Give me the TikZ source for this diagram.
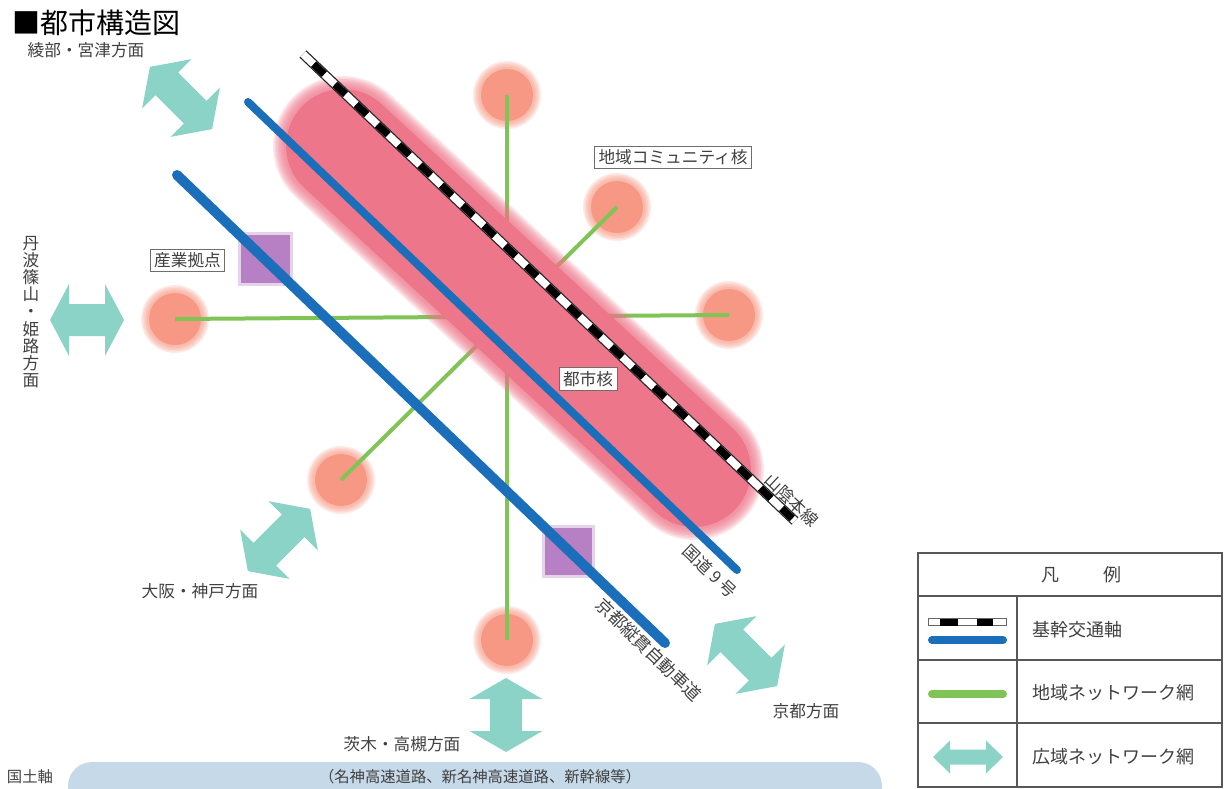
\documentclass[tikz,border=0pt]{standalone}
\usepackage{fontspec}
\setmainfont{Noto Sans CJK JP}
\definecolor{arrowcol}{RGB}{140,211,199}
\definecolor{pinkc}{RGB}{237,118,138}
\definecolor{dotcol}{RGB}{246,152,132}
\definecolor{greenc}{RGB}{128,196,88}
\definecolor{bluec}{RGB}{27,110,185}
\definecolor{purplec}{RGB}{183,127,196}
\definecolor{txtc}{RGB}{64,64,64}
\definecolor{barc}{RGB}{198,217,232}
\definecolor{boxc}{RGB}{110,110,110}
\newcommand{\dblarrow}[7]{%
\begin{scope}[shift={(#1,#2)},rotate=#3]
\fill[arrowcol] ({-#4/2},0) -- ({-#4/2+#6},{#5/2}) -- ({-#4/2+#6},{#7/2}) -- ({#4/2-#6},{#7/2}) -- ({#4/2-#6},{#5/2}) -- ({#4/2},0) -- ({#4/2-#6},{-#5/2}) -- ({#4/2-#6},{-#7/2}) -- ({-#4/2+#6},{-#7/2}) -- ({-#4/2+#6},{-#5/2}) -- cycle;
\end{scope}}
\newcommand{\softdot}[1]{%
\foreach \r in {34,32.5,...,27}{\fill[dotcol,opacity=0.2] (#1) circle[radius=\r*0.75pt];}
\fill[dotcol] (#1) circle[radius=26*0.75pt];}
\tikzset{
  lbl/.style={text=txtc,font=\fontsize{12.5}{15}\selectfont,inner sep=0pt},
  boxlbl/.style={draw=boxc,line width=0.7pt,fill=white,text=txtc,font=\fontsize{12.5}{15}\selectfont,inner xsep=3pt,inner ysep=2.5pt},
  leg/.style={text=txtc,font=\fontsize{13.5}{16}\selectfont,inner sep=0pt,anchor=west},
  greenline/.style={greenc,line width=3pt},
}
\begin{document}
\begin{tikzpicture}[x=0.75pt,y=-0.75pt]
\useasboundingbox (0,0) rectangle (1225,789);
\begin{scope}
\clip (0,0) rectangle (1225,789);
% coordinates
\coordinate (ctop) at (507,95);
\coordinate (ccom) at (617,207);
\coordinate (cright) at (729,315);
\coordinate (cleft) at (175,319);
\coordinate (cll) at (341,480);
\coordinate (cbot) at (507,640);
\coordinate (C1) at (343,146);
\coordinate (C2) at (694,470);
\coordinate (R1) at (303,54);
\coordinate (R2) at (795,521);
\coordinate (N1) at (248,102);
\coordinate (N2) at (737,570);
\coordinate (E1) at (177,175);
\coordinate (E2) at (665,643);
% dots
\softdot{ctop}\softdot{ccom}\softdot{cright}\softdot{cleft}\softdot{cll}\softdot{cbot}
% green network
\draw[greenline] (ctop) -- (cbot);
\draw[greenline] (cleft) -- (cright);
\draw[greenline] (cll) -- (ccom);
% capsule
\foreach \w in {140,137,...,117}{\draw[pinkc,opacity=0.17,line width=\w*0.75pt,line cap=round] (C1) -- (C2);}
\draw[pinkc,line width=114*0.75pt,line cap=round] (C1) -- (C2);
% purple squares
\fill[purplec,opacity=0.35] (238,232) rectangle (293,286);
\fill[purplec] (241,235) rectangle (290,283);
\fill[purplec,opacity=0.35] (542,525) rectangle (595,578);
\fill[purplec] (545,528) rectangle (592,575);
% roads
\draw[bluec,line width=6pt,line cap=round] (N1) -- (N2);
\draw[bluec,line width=7.5pt,line cap=round] (E1) -- (E2);
% rail
\draw[black!85,line width=7.5pt] (R1) -- (R2);
\draw[white,line width=5.6pt] (R1) -- (R2);
\draw[black,line width=5.6pt,dash pattern=on 11pt off 11pt,dash phase=11pt] (R1) -- (R2);
% arrows
\dblarrow{181}{98}{-45}{88}{70}{24}{32}
\dblarrow{87}{320}{0}{74}{72}{19}{32}
\dblarrow{279}{540}{45}{88}{70}{24}{32}
\dblarrow{506}{715}{90}{74}{73}{21}{32}
\dblarrow{746}{655}{-45}{88}{70}{24}{32}
% title
\node[anchor=west,font=\fontsize{21}{24}\selectfont,inner sep=0pt] (title) at (12,23) {■都市構造図};
% direction labels
\node[lbl] (ayabe) at (86,50) {綾部・宮津方面};
\node[lbl,align=center,font=\fontsize{12.5}{12.9}\selectfont] (tamba) at (31,312) {丹\\波\\篠\\山\\・\\姫\\路\\方\\面};
\node[lbl] (osaka) at (200,591) {大阪・神戸方面};
\node[lbl] (kyoto) at (806,711) {京都方面};
\node[lbl] (ibaraki) at (402,744) {茨木・高槻方面};
% boxed labels
\node[boxlbl] (sangyo) at (187.5,260) {産業拠点};
\node[boxlbl] (comm) at (673,157.5) {地域コミュニティ核};
\node[boxlbl] (toshi) at (588,379) {都市核};
% rotated labels
\node[lbl,rotate=-43.5] (sanin) at (792,500) {山陰本線};
\node[lbl,rotate=-43.5] (kokudo) at (710,571) {国道 9 号};
\node[lbl,rotate=-44,font=\fontsize{13}{15}\selectfont] (jukan) at (649,650) {京都縦貫自動車道};
% national axis bar
\fill[barc] (68,762) [rounded corners=18pt] rectangle (882,812);
\node[lbl,font=\fontsize{11.5}{14}\selectfont] (kokudojiku) at (30,777) {国土軸};
\node[lbl,font=\fontsize{11.5}{14}\selectfont] (bartext) at (480,777) {（名神高速道路、新名神高速道路、新幹線等）};
% legend
\draw[boxc!80!black,line width=1.1pt] (918,553) rectangle (1222,787);
\draw[boxc!80!black,line width=1.1pt] (918,596) -- (1222,596);
\draw[boxc!80!black,line width=1.1pt] (918,660) -- (1222,660);
\draw[boxc!80!black,line width=1.1pt] (918,723) -- (1222,723);
\draw[boxc!80!black,line width=1.1pt] (1017,596) -- (1017,787);
\node[text=txtc,font=\fontsize{13.5}{16}\selectfont,inner sep=0pt] (leghead) at (1081,575) {凡\hspace{33pt}例};
\coordinate (LR1) at (928,622);
\coordinate (LR2) at (1007,622);
\draw[black!60,line width=6pt] (LR1) -- (LR2);
\draw[white,line width=4.6pt] (928.9,622) -- (1006.1,622);
\fill[black] (940,618.5) rectangle (958,625.5);
\fill[black] (977,618.5) rectangle (993,625.5);
\coordinate (LB1) at (932,640);
\coordinate (LB2) at (1003,640);
\draw[bluec,line width=6pt,line cap=round] (LB1) -- (LB2);
\coordinate (LG1) at (932,694);
\coordinate (LG2) at (1003,694);
\draw[greenc,line width=6pt,line cap=round] (LG1) -- (LG2);
\dblarrow{968}{757}{0}{70}{33}{17}{15}
\node[leg] (leg1) at (1032,630) {基幹交通軸};
\node[leg] (leg2) at (1032,693) {地域ネットワーク網};
\node[leg] (leg3) at (1032,757) {広域ネットワーク網};
\end{scope}
\end{tikzpicture}
\end{document}
